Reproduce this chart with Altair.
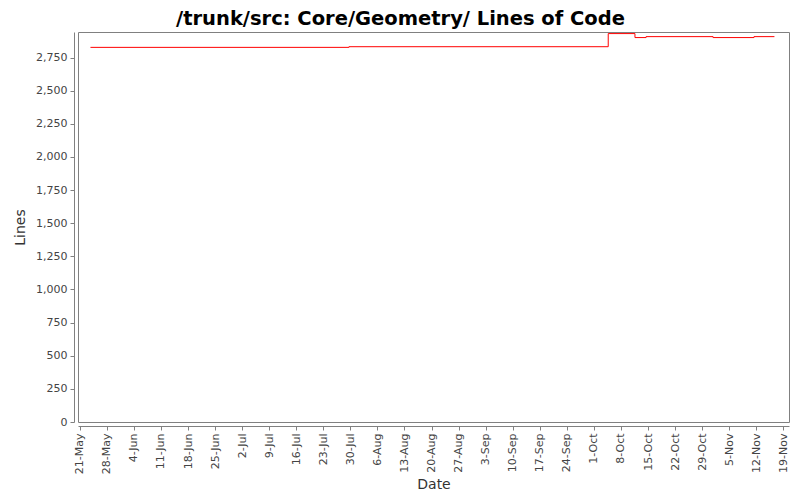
import altair as alt
import pandas as pd

# step-line data (change dates and line counts)
dates = ["2007-05-23T18:00", "2007-07-29T15:00", "2007-10-04T17:00", "2007-10-11T15:00",
         "2007-10-14T12:00", "2007-10-31T20:00", "2007-11-11T10:00", "2007-11-16T17:00"]
lines = [2827, 2832, 2931, 2901, 2908, 2901, 2908, 2908]

# axis tick values
x_ticks = ["2007-05-21", "2007-05-28", "2007-06-04", "2007-06-11", "2007-06-18", "2007-06-25",
           "2007-07-02", "2007-07-09", "2007-07-16", "2007-07-23", "2007-07-30", "2007-08-06",
           "2007-08-13", "2007-08-20", "2007-08-27", "2007-09-03", "2007-09-10", "2007-09-17",
           "2007-09-24", "2007-10-01", "2007-10-08", "2007-10-15", "2007-10-22", "2007-10-29",
           "2007-11-05", "2007-11-12", "2007-11-19"]
y_ticks = [0, 250, 500, 750, 1000, 1250, 1500, 1750, 2000, 2250, 2500, 2750]

df = pd.DataFrame({"date": dates, "lines": lines})


def dt(s, hours=0, minutes=0):
    y, m, d = (int(p) for p in s[:10].split("-"))
    return alt.DateTime(year=y, month=m, date=d, hours=hours, minutes=minutes)


x_values = [dt(s) for s in x_ticks]
x_domain = [dt("2007-05-20", 12, 40), dt("2007-11-20", 11, 30)]

chart = alt.Chart(df).mark_line(
    interpolate="step-after", color="#ff0000", strokeWidth=1
).encode(
    x=alt.X("date:T", title="Date",
            scale=alt.Scale(domain=x_domain),
            axis=alt.Axis(values=x_values, format="%-d-%b", labelAngle=270,
                          labelAlign="right", labelBaseline="middle",
                          labelPadding=3, titlePadding=4, labelOverlap=False,
                          grid=False)),
    y=alt.Y("lines:Q", title="Lines",
            scale=alt.Scale(domain=[0, 2943], nice=False, zero=True),
            axis=alt.Axis(values=y_ticks, format=",d", grid=False,
                          labelPadding=3, titlePadding=8)),
).properties(
    width=711, height=390,
    title=alt.Title("/trunk/src: Core/Geometry/ Lines of Code", dx=-33, offset=2),
    autosize="none",
    padding={"left": 70, "top": 24, "right": 3, "bottom": 70},
    background="white",
).configure_view(
    stroke="#808080", strokeWidth=1
).configure_axis(
    offset=4, domainColor="#808080", tickColor="#808080", tickSize=4,
    labelFont="DejaVu Sans", labelFontSize=11, labelColor="#444444",
    titleFont="DejaVu Sans", titleFontSize=14, titleFontWeight="normal",
    titleColor="#333333",
).configure_title(
    font="DejaVu Sans", fontSize=19.5, fontWeight="bold", color="#000000",
    anchor="middle",
)

chart.save("out.html", embed_options={"renderer": "svg", "actions": False})
